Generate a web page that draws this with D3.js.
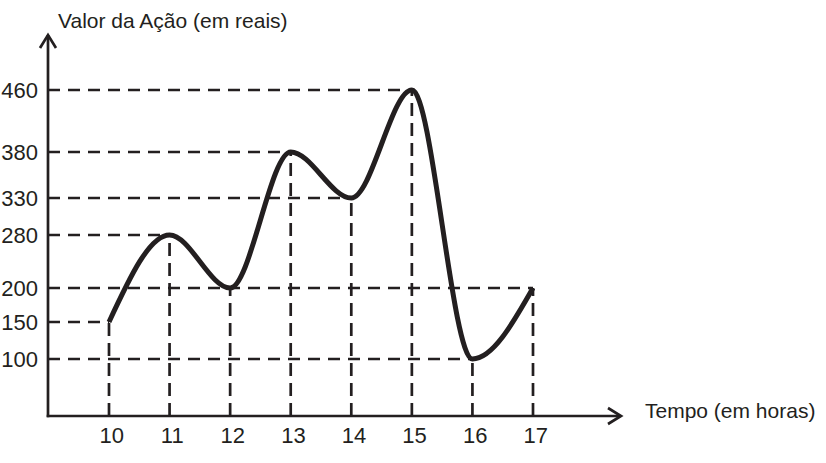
<!DOCTYPE html>
<html>
<head>
<meta charset="utf-8">
<script src="https://cdn.jsdelivr.net/npm/d3@7"></script>
<style>
  html, body { margin: 0; padding: 0; background: #fff; }
  svg { display: block; }
  text { font-family: "Liberation Sans", Arial, sans-serif; fill: #231f20; }
</style>
</head>
<body>
<svg id="chart" width="826" height="463"></svg>
<script>
// ---- data ----
const hours = [10, 11, 12, 13, 14, 15, 16, 17];
const values = [150, 280, 200, 380, 330, 460, 100, 200];
const yTickValues = [100, 150, 200, 280, 330, 380, 460];
const yTickPixels = [359, 322, 288, 235, 198, 152, 90]; // hand-drawn (non-uniform) axis spacing
const yTitle = "Valor da Ação (em reais)";
const xTitle = "Tempo (em horas)";

const ink = "#231f20";
const svg = d3.select("#chart");

const origin = { x: 48, y: 416 };
const x = d3.scaleLinear().domain([10, 17]).range([109, 533]);
const y = d3.scaleLinear().domain(yTickValues).range(yTickPixels);

const pts = hours.map((h, i) => ({ h, v: values[i] }));

// dashed guide lines
const guides = svg.append("g")
  .attr("stroke", ink).attr("stroke-width", 2.7).attr("fill", "none");

// horizontal: from y-axis to the point with that value
yTickValues.forEach(v => {
  const p = pts.filter(d => d.v === v).reduce((a, b) => (b.h > a.h ? b : a));
  guides.append("line")
    .attr("x1", origin.x).attr("x2", x(p.h))
    .attr("y1", y(v)).attr("y2", y(v))
    .attr("stroke-dasharray", "12 8");
});
// vertical: from x-axis up to the point
pts.forEach(d => {
  guides.append("line")
    .attr("x1", x(d.h)).attr("x2", x(d.h))
    .attr("y1", origin.y).attr("y2", y(d.v))
    .attr("stroke-dasharray", "13 7");
});

// axes lines with arrows
const axes = svg.append("g").attr("stroke", ink).attr("stroke-width", 2.7)
  .attr("fill", "none").attr("stroke-linecap", "butt");
axes.append("line").attr("x1", origin.x).attr("y1", origin.y + 1.3)
  .attr("x2", origin.x).attr("y2", 35);
axes.append("path").attr("d", `M${origin.x - 8},${48} L${origin.x},${35} L${origin.x + 8},${48}`)
  .attr("stroke-linejoin", "miter");
axes.append("line").attr("x1", origin.x - 1.3).attr("y1", origin.y)
  .attr("x2", 620).attr("y2", origin.y);
axes.append("path").attr("d", `M${608},${origin.y - 8} L${621},${origin.y} L${608},${origin.y + 8}`)
  .attr("stroke-linejoin", "miter");

// tick labels via d3 axes
const yAxis = svg.append("g")
  .attr("transform", `translate(${origin.x},0)`)
  .call(d3.axisLeft(y).tickValues(yTickValues).tickSize(0).tickPadding(10).tickFormat(d3.format("d")));
yAxis.select(".domain").remove();
yAxis.selectAll("text")
  .attr("font-size", 22).attr("font-family", "Liberation Sans, Arial, sans-serif")
  .attr("fill", ink).attr("dy", "0.36em");

const xAxis = svg.append("g")
  .attr("transform", `translate(0,${origin.y})`)
  .call(d3.axisBottom(x).tickValues(hours).tickSize(0).tickPadding(11).tickFormat(d3.format("d")));
xAxis.select(".domain").remove();
xAxis.selectAll("text")
  .attr("font-size", 22).attr("font-family", "Liberation Sans, Arial, sans-serif")
  .attr("fill", ink).attr("dx", "0.1em");

// curve
const line = d3.line()
  .x(d => x(d.h))
  .y(d => y(d.v))
  .curve(d3.curveMonotoneX);
svg.append("path")
  .datum(pts)
  .attr("d", line)
  .attr("fill", "none")
  .attr("stroke", ink)
  .attr("stroke-width", 5)
  .attr("stroke-linejoin", "round");

// titles
svg.append("text").attr("x", 58).attr("y", 28).attr("font-size", 21).text(yTitle);
svg.append("text").attr("x", 645).attr("y", 418).attr("font-size", 21).text(xTitle);
</script>
</body>
</html>
